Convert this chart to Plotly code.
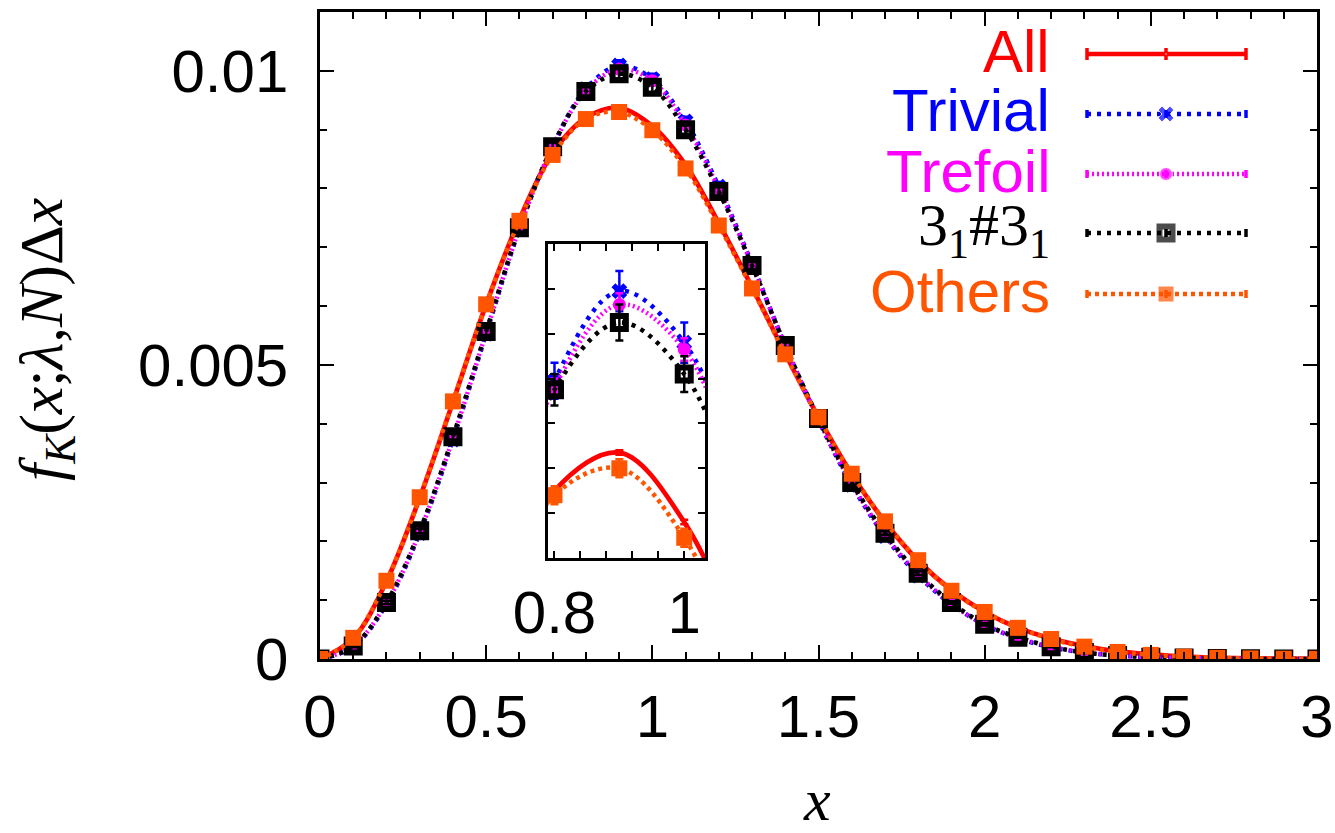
import plotly.graph_objects as go

# ---------------- data ----------------
x = [0.0, 0.1, 0.2, 0.3, 0.4, 0.5, 0.6, 0.7, 0.8, 0.9, 1.0, 1.1, 1.2, 1.3, 1.4, 1.5,
     1.6, 1.7, 1.8, 1.9, 2.0, 2.1, 2.2, 2.3, 2.4, 2.5, 2.6, 2.7, 2.8, 2.9, 3.0]

all_y = [0, 0.00035, 0.00132, 0.00274, 0.00437, 0.00603, 0.00747, 0.00860, 0.00920, 0.00937,
         0.00906, 0.00840, 0.00741, 0.00632, 0.00519, 0.00411, 0.00314, 0.00233, 0.00167,
         0.00117, 0.00080, 0.00053, 0.00035, 0.00022, 0.00013, 0.00008, 0.00004, 0.00002,
         0.00001, 0.000005, 0.000002]
trivial_y = [0, 0.00021, 0.00093, 0.00214, 0.00373, 0.00553, 0.00731, 0.00872, 0.00969, 0.01009,
             0.00986, 0.00914, 0.00803, 0.00672, 0.00533, 0.00406, 0.00296, 0.00209, 0.00142,
             0.00093, 0.00058, 0.00035, 0.00020, 0.00011, 0.00006, 0.00003, 0.000015, 0.000007,
             0.000003, 0.000001, 0.0000005]
trefoil_y = [0, 0.00022, 0.00095, 0.00216, 0.00375, 0.00555, 0.00732, 0.00871, 0.00966, 0.01003,
             0.00983, 0.00908, 0.00799, 0.00670, 0.00533, 0.00407, 0.00298, 0.00211, 0.00144,
             0.00094, 0.00058, 0.00036, 0.00021, 0.00011, 0.00006, 0.00003, 0.000015, 0.000007,
             0.000003, 0.000001, 0.0000005]
k3131_y = [0, 0.00022, 0.00096, 0.00218, 0.00378, 0.00557, 0.00733, 0.00871, 0.00965, 0.00995,
           0.00972, 0.00900, 0.00795, 0.00669, 0.00533, 0.00409, 0.00300, 0.00214, 0.00146,
           0.00096, 0.00059, 0.00037, 0.00021, 0.00011, 0.00006, 0.00003, 0.000015, 0.000007,
           0.000003, 0.000001, 0.0000005]
others_y = [0, 0.00036, 0.00133, 0.00275, 0.00438, 0.00603, 0.00745, 0.00857, 0.00918, 0.00930,
            0.00899, 0.00834, 0.00737, 0.00630, 0.00518, 0.00411, 0.00315, 0.00234, 0.00168,
            0.00116, 0.00080, 0.00053, 0.00034, 0.00021, 0.00012, 0.00007, 0.00004, 0.00002,
            0.00001, 0.000005, 0.000002]

all_err = [0, 0.00001, 0.00001, 0.00001, 0.00001, 0.00001, 0.00001, 0.00001, 0.00001, 0.00001,
           0.00001, 0.00001, 0.00001, 0.00001, 0.00001, 0.00001, 0.00001, 0.00001, 0, 0,
           0, 0, 0, 0, 0, 0, 0, 0, 0, 0, 0]
trivial_err = [0, 0.00002, 0.00003, 0.00004, 0.00005, 0.00006, 0.00007, 0.00008, 0.00008, 0.00009,
               0.00009, 0.00008, 0.00008, 0.00007, 0.00006, 0.00005, 0.00004, 0.00004, 0.00003,
               0.00002, 0.00002, 0.00001, 0.00001, 0.00001, 0, 0, 0, 0, 0, 0, 0]
trefoil_err = [0, 0.00001, 0.00002, 0.00002, 0.00003, 0.00003, 0.00004, 0.00004, 0.00004, 0.00005,
               0.00005, 0.00004, 0.00004, 0.00004, 0.00003, 0.00003, 0.00002, 0.00002, 0.00002,
               0.00001, 0.00001, 0.00001, 0, 0, 0, 0, 0, 0, 0, 0, 0]
k3131_err = [0, 0.00002, 0.00003, 0.00004, 0.00005, 0.00006, 0.00006, 0.00007, 0.00007, 0.00008,
             0.00008, 0.00007, 0.00007, 0.00006, 0.00005, 0.00005, 0.00004, 0.00003, 0.00003,
             0.00002, 0.00002, 0.00001, 0.00001, 0, 0, 0, 0, 0, 0, 0, 0]
others_err = [0, 0.00001, 0.00002, 0.00002, 0.00003, 0.00003, 0.00004, 0.00004, 0.00004, 0.00004,
              0.00004, 0.00004, 0.00004, 0.00003, 0.00003, 0.00003, 0.00002, 0.00002, 0.00002,
              0.00001, 0.00001, 0.00001, 0, 0, 0, 0, 0, 0, 0, 0, 0]

names = ["All", "Trivial", "Trefoil", "3<sub>1</sub>#3<sub>1</sub>", "Others"]
x_ticks = [0, 0.5, 1, 1.5, 2, 2.5, 3]
x_ticktext = ["0", "0.5", "1", "1.5", "2", "2.5", "3"]
y_ticks = [0, 0.005, 0.01]
y_ticktext = ["0", "0.005", "0.01"]
inset_x_ticks = [0.8, 1.0]
inset_x_ticktext = ["0.8", "1"]
inset_x_minor = [0.84, 0.88, 0.92, 0.96]
inset_y_ticks = [0.0089, 0.0091, 0.0093, 0.0095, 0.0097, 0.0099, 0.0101, 0.0103]

# ---------------- styles ----------------
SANS = "Liberation Sans"
SERIF = "Liberation Serif"
RED, BLUE, MAG, BLK, ORA = "#ff0000", "#0000ff", "#ff00ff", "#000000", "#ff5500"

series = [
    dict(y=all_y, e=all_err, color=RED, dash="solid", width=4.7,
         marker=dict(size=1, symbol="circle", color=RED)),
    dict(y=trivial_y, e=trivial_err, color=BLUE, dash="4px,6px", width=4.5,
         marker=dict(size=14, symbol="x", color=BLUE)),
    dict(y=trefoil_y, e=trefoil_err, color=MAG, dash="2px,3px", width=4.5,
         marker=dict(size=13, symbol="circle", color=MAG)),
    dict(y=k3131_y, e=k3131_err, color=BLK, dash="4px,6px", width=4.5,
         marker=dict(size=13, symbol="square-open", color=BLK, line=dict(width=6, color=BLK))),
    dict(y=others_y, e=others_err, color=ORA, dash="4px,4px", width=4.5,
         marker=dict(size=16, symbol="square", color=ORA)),
]

# plot-area geometry in pixels
L, R, T, B = 320, 1317, 12, 659
W, H = 1335, 833


def px(xp):
    return (xp - L) / (R - L)


def py(yp):
    return (B - yp) / (B - T)


fig = go.Figure()

for s in series:
    for xa, ya in (("x", "y"), ("x2", "y2")):
        fig.add_trace(go.Scatter(
            x=x, y=s["y"], xaxis=xa, yaxis=ya, mode="lines+markers",
            line=dict(color=s["color"], dash=s["dash"], width=s["width"], shape="spline", smoothing=1.0),
            marker=s["marker"],
            error_y=dict(type="data", array=s["e"], color=s["color"], thickness=2.5, width=4),
            showlegend=False, hoverinfo="skip"))

# ---------------- custom legend (text left of sample) ----------------
rows = [54, 114, 174, 233, 294]
caps = [6, 4, 4, 4, 4]
for s, name, ry, cap in zip(series, names, rows, caps):
    mk = dict(s["marker"])
    fig.add_trace(go.Scatter(
        x=[1087, 1166, 1246], y=[ry, ry, ry], xaxis="x3", yaxis="y3",
        mode="lines+markers",
        line=dict(color=s["color"], dash=s["dash"], width=s["width"]),
        marker=dict(mk, size=[0, mk["size"], 0]),
        error_y=dict(type="constant", value=cap, color=s["color"], thickness=3.5, width=0),
        showlegend=False, hoverinfo="skip", cliponaxis=False))

annotations = []
for s, name, ry in zip(series, names, rows):
    fam = SERIF if "sub" in name else SANS
    annotations.append(dict(
        x=px(1052), y=py(ry - 3), xref="paper", yref="paper", xanchor="right", yanchor="middle",
        text=name, showarrow=False, font=dict(family=fam, size=60, color=s["color"])))

annotations.append(dict(
    x=px(45), y=py(339), xref="paper", yref="paper", xanchor="center", yanchor="middle",
    textangle=-90, showarrow=False,
    text="<i>f</i><sub><i>K</i></sub>(<i>x</i>;<i>λ</i>,<i>N</i>)Δ<i>x</i>",
    font=dict(family=SERIF, size=62, color="black")))
annotations.append(dict(
    x=px(817), y=py(800), xref="paper", yref="paper", xanchor="center", yanchor="middle",
    showarrow=False, text="<i>x</i>", font=dict(family=SERIF, size=60, color="black")))

axis_common = dict(showgrid=False, zeroline=False, showline=True, linecolor="black", linewidth=2.5,
                   mirror="allticks", ticks="inside", tickcolor="black", tickwidth=2, automargin=False)

fig.update_layout(
    width=W, height=H,
    margin=dict(l=L, r=W - R, t=T, b=H - B, autoexpand=False),
    paper_bgcolor="white", plot_bgcolor="rgba(0,0,0,0)",
    font=dict(family=SANS, size=60, color="black"),
    annotations=annotations,
    xaxis=dict(axis_common, domain=[0, 1], range=[0, 3], tickvals=x_ticks, ticktext=x_ticktext,
               ticklen=14, ticklabelstandoff=3,
               minor=dict(dtick=0.1, tick0=0, ticklen=7, ticks="inside", tickcolor="black", tickwidth=2),
               tickfont=dict(family=SANS, size=60), anchor="y"),
    yaxis=dict(axis_common, domain=[0, 1], range=[0, 0.011], tickvals=y_ticks, ticktext=y_ticktext,
               ticklen=14, ticklabelstandoff=17,
               minor=dict(dtick=0.001, tick0=0, ticklen=7, ticks="inside", tickcolor="black", tickwidth=2),
               tickfont=dict(family=SANS, size=60), anchor="x"),
    xaxis2=dict(axis_common, domain=[px(548), px(705)], range=[0.79, 1.032], anchor="y2",
                tickvals=inset_x_ticks, ticktext=inset_x_ticktext, ticklen=7,
                minor=dict(tickvals=inset_x_minor, ticklen=7, ticks="inside", tickcolor="black", tickwidth=2),
                ticklabelstandoff=0, tickfont=dict(family=SANS, size=60)),
    yaxis2=dict(axis_common, domain=[py(558), py(244)], range=[0.0089, 0.0103], anchor="x2",
                tickvals=inset_y_ticks, showticklabels=False, ticklen=7),
    xaxis3=dict(domain=[0, 1], range=[L, R], anchor="y3", overlaying="x", visible=False),
    yaxis3=dict(domain=[0, 1], range=[B, T], anchor="x3", overlaying="y", visible=False),
)

fig.write_html("out.html")
